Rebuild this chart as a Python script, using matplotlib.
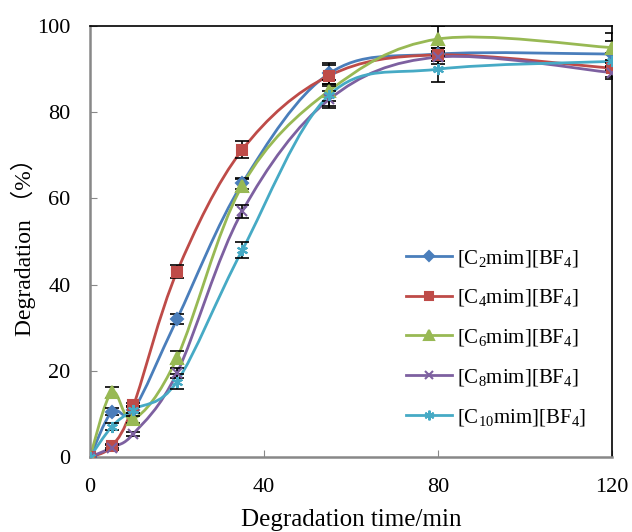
import numpy as np
import matplotlib
matplotlib.use("Agg")
import matplotlib.pyplot as plt
from matplotlib.path import Path
from matplotlib.patches import PathPatch
from matplotlib.lines import Line2D

plt.rcParams['font.family'] = ['Liberation Serif', 'DejaVu Serif']
plt.rcParams['mathtext.fontset'] = 'custom'
plt.rcParams['mathtext.rm'] = 'Liberation Serif'
plt.rcParams['mathtext.default'] = 'regular'

t = [0, 5, 10, 20, 35, 55, 80, 120]

c2 = [0, 10.5, 11, 32, 63.5, 89, 93.5, 93.5]
c4 = [0, 2.5, 12, 43, 71.3, 88.5, 93.3, 90.2]
c6 = [0, 15, 8.8, 23, 63, 85, 97, 95]
c8 = [0, 2.2, 5.4, 19.5, 57, 83, 92.8, 89.2]
c10 = [0, 7, 11, 17.5, 48, 84, 90, 91.8]

e2 = [0, 0.8, 0.8, 1.2, 1.2, 2.5, 1.5, 3]
e4 = [0, 0.5, 0.5, 1.5, 2, 2.5, 1.5, 2]
e6 = [0, 1.2, 0.8, 1.5, 1.5, 2.5, 3, 3.5]
e8 = [0, 0.5, 0.5, 1.2, 1.5, 2, 1.5, 1.5]
e10 = [0, 0.8, 0.8, 1.8, 1.8, 2.5, 3, 2]

names = [r'[C$_2$mim][BF$_4$]', r'[C$_4$mim][BF$_4$]', r'[C$_6$mim][BF$_4$]',
         r'[C$_8$mim][BF$_4$]', r'[C$_{10}$mim][BF$_4$]']
colors = ['#4A7EBB', '#BE4B48', '#98B954', '#7D60A0', '#46AAC5']
markers = ['D', 's', '^', 'x', (6, 2, 0)]
msizes = [6.5, 6.5, 8, 7, 8]


def smooth_path(x, y):
    # excel-like smoothed line: cubic bezier through every point
    x = np.asarray(x, float)
    y = np.asarray(y, float)
    pts = np.column_stack([x, y])
    n = len(pts)
    verts = [pts[0]]
    codes = [Path.MOVETO]
    for i in range(n - 1):
        p0 = pts[i - 1] if i > 0 else pts[i]
        p1 = pts[i]
        p2 = pts[i + 1]
        p3 = pts[i + 2] if i + 2 < n else pts[i + 1]
        c1 = p1 + (p2 - p0) / 6.0
        cc = p2 - (p3 - p1) / 6.0
        verts += [c1, cc, p2]
        codes += [Path.CURVE4] * 3
    return Path(verts, codes)


fig = plt.figure(figsize=(6.32, 5.32), dpi=100)
ax = fig.add_axes([0.1424, 0.141, 0.826, 0.810])

series = [(c2, e2), (c4, e4), (c6, e6), (c8, e8), (c10, e10)]
handles = []
for (vals, errs), nm, col, mk, ms in zip(series, names, colors, markers, msizes):
    ax.add_patch(PathPatch(smooth_path(t, vals), facecolor='none', edgecolor=col,
                           lw=2, zorder=2))
    ax.errorbar(t, vals, yerr=errs, fmt='none', ecolor='black', elinewidth=1.2,
                capsize=5, capthick=1.2, zorder=3)
    ax.plot(t, vals, linestyle='none', marker=mk, color=col, markersize=ms,
            markeredgewidth=1.5, zorder=4)
    handles.append(Line2D([], [], color=col, lw=2, marker=mk, markersize=ms - 1,
                          markeredgewidth=1.5, label=nm))

ax.set_xlim(0, 120)
ax.set_ylim(0, 100)
ax.set_xticks([0, 40, 80, 120])
ax.set_yticks([0, 20, 40, 60, 80, 100])
ax.tick_params(direction='in', length=5, color='#888888', labelsize=16, pad=12)
ax.tick_params(axis='x', pad=15)
ax.tick_params(axis='y', pad=14)
for s in ['left', 'bottom']:
    ax.spines[s].set_color('#888888')
    ax.spines[s].set_linewidth(1.8)
for s in ['top', 'right']:
    ax.spines[s].set_color('black')
    ax.spines[s].set_linewidth(1.2)

ax.set_xlabel('Degradation time/min', fontsize=18, labelpad=9)
ax.set_ylabel('Degradation \uff08%\uff09', fontsize=17, labelpad=1,
              family=['Liberation Serif', 'Noto Sans CJK SC'])

ax.legend(handles=handles, loc='upper left', bbox_to_anchor=(0.59, 0.505),
          frameon=False, fontsize=15, handlelength=2.2, handletextpad=0.25,
          labelspacing=0.9, borderaxespad=0)

fig.savefig('out.png', dpi=100)
